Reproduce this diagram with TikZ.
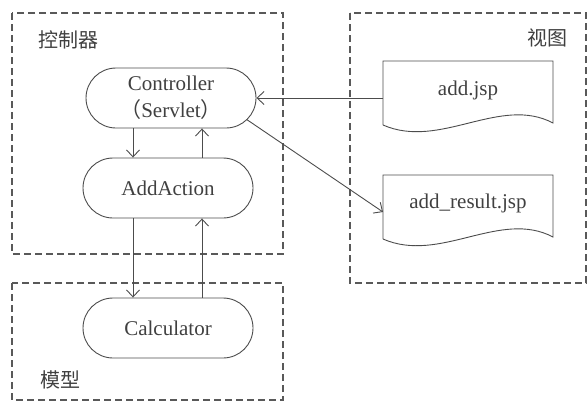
\documentclass[tikz,border=0pt]{standalone}
\usepackage{fontspec}
\setmainfont{Liberation Serif}
\newfontfamily\cjk{Noto Sans CJK SC}
\usetikzlibrary{shapes.misc,arrows.meta}
\begin{document}
\begin{tikzpicture}[x=1pt,y=-1pt,
 font=\fontsize{21}{27}\selectfont, text=black!75,
 frame/.style={draw=black!65, line width=1.8pt, dash pattern=on 7pt off 4pt},
 pill/.style={draw=black!70, line width=0.9pt, rounded rectangle, minimum width=170pt, minimum height=60pt, inner sep=0pt, align=center},
 doc/.style={draw=black!70, line width=0.9pt},
 arr/.style={draw=black!70, line width=0.9pt, -{Straight Barb[length=7pt,width=13pt]}},
 lbl/.style={font=\cjk\fontsize{20}{24}\selectfont, inner sep=0pt}]
\useasboundingbox (0,0) rectangle (587,402);
% frames
\draw[frame] (12,13) rectangle (283,254);
\draw[frame] (12,283) rectangle (283,400);
\draw[frame] (350,13) rectangle (586,283);
% labels
\node[lbl, anchor=west] (lc) at (38,40) {控制器};
\node[lbl, anchor=east] (lv) at (568,38) {视图};
\node[lbl, anchor=west] (lm) at (40,380) {模型};
% pills
\node[pill] (ctrl) at (171,98) {Controller\\{\cjk （}Servlet{\cjk ）}};
\node[pill] (add) at (168,188) {AddAction};
\node[pill] (calc) at (168,328) {Calculator};
% documents
\draw[doc] (383,125) -- (383,61) -- (553,61) -- (553,123) .. controls (500,95) and (440,150) .. (383,125);
\draw[doc] (383,239) -- (383,175) -- (553,175) -- (553,237) .. controls (500,209) and (440,264) .. (383,239);
\node (addjsp) at (468,90) {add.jsp};
\node (res) at (468,203) {add\_result.jsp};
\coordinate (addL) at (383,98);
\coordinate (resL) at (383,212);
\coordinate (L) at (133,0);
\coordinate (R) at (202,0);
% connectors
\draw[arr] (addL) -- (ctrl.east);
\draw[arr] (ctrl.-16) -- (resL);
\draw[arr] (ctrl.south -| L) -- (add.north -| L);
\draw[arr] (add.north -| R) -- (ctrl.south -| R);
\draw[arr] (add.south -| L) -- (calc.north -| L);
\draw[arr] (calc.north -| R) -- (add.south -| R);
\end{tikzpicture}
\end{document}
